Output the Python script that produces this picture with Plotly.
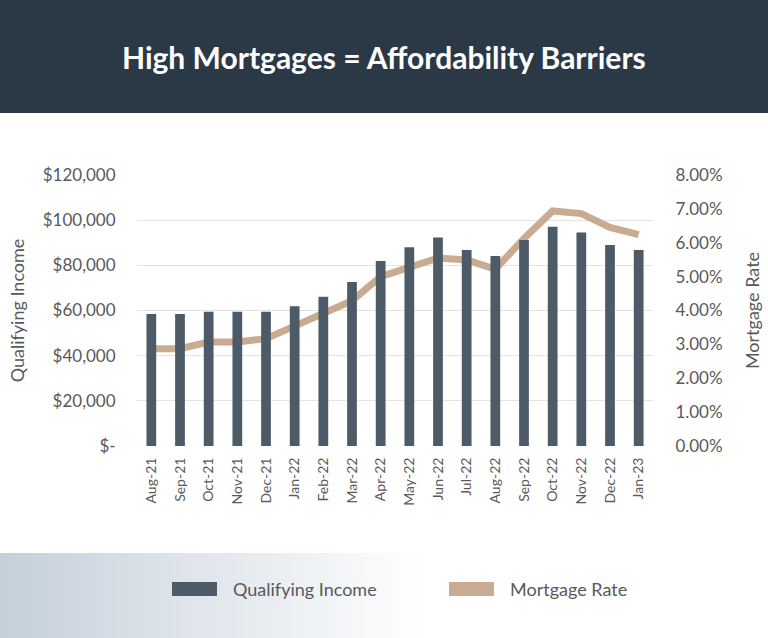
import plotly.graph_objects as go

months = ["Aug-21", "Sep-21", "Oct-21", "Nov-21", "Dec-21", "Jan-22", "Feb-22", "Mar-22",
          "Apr-22", "May-22", "Jun-22", "Jul-22", "Aug-22", "Sep-22", "Oct-22", "Nov-22",
          "Dec-22", "Jan-23"]
qualifying_income = [58500, 58500, 59500, 59500, 59500, 61900, 66100, 72600,
                     81900, 88000, 92300, 86800, 84100, 91200, 97100, 94500,
                     89000, 86800]
mortgage_rate = [2.87, 2.87, 3.07, 3.07, 3.17, 3.55, 3.92, 4.29,
                 5.00, 5.29, 5.55, 5.49, 5.22, 6.13, 6.94, 6.86,
                 6.45, 6.24]

income_ticks = [0, 20000, 40000, 60000, 80000, 100000, 120000]
income_labels = ["$-", "$20,000", "$40,000", "$60,000", "$80,000", "$100,000", "$120,000"]
rate_ticks = [0, 1, 2, 3, 4, 5, 6, 7, 8]
rate_labels = [f"{v:.2f}%" for v in rate_ticks]

BAR = "#4d5b69"
LINE = "#c8ab90"
TXT = "#595959"
FONT = "Lato"
W, H = 768, 638

fig = go.Figure()
fig.add_trace(go.Scatter(x=months, y=mortgage_rate, name="Mortgage Rate", mode="lines",
                         line=dict(color=LINE, width=7), yaxis="y", showlegend=False))
fig.add_trace(go.Bar(x=months, y=qualifying_income, name="Qualifying Income",
                     marker=dict(color=BAR, line=dict(width=0)), yaxis="y2", showlegend=False))

L, R = 137, W - 653
T, B = 175, H - 446
pw, ph = W - L - R, H - T - B
def px(x):
    return (x - L) / pw
def py(y):
    return (H - B - y) / ph

shapes = []
# header band
shapes.append(dict(type="rect", xref="paper", yref="paper", x0=px(0), x1=px(W),
                   y0=py(113), y1=py(0), fillcolor="#2b3947", line=dict(width=0), layer="below"))
# legend gradient band (vertical strips)
c0 = (197, 208, 219)
c1 = (255, 255, 255)
N = 60
gw = 430
for i in range(N):
    t = i / (N - 1)
    col = tuple(round(c0[k] + (c1[k] - c0[k]) * t) for k in range(3))
    shapes.append(dict(type="rect", xref="paper", yref="paper",
                       x0=px(i * gw / N), x1=px((i + 1) * gw / N + 1),
                       y0=py(H), y1=py(553), fillcolor="rgb(%d,%d,%d)" % col,
                       line=dict(width=0), layer="below"))
# legend swatches
shapes.append(dict(type="rect", xref="paper", yref="paper", x0=px(172), x1=px(217),
                   y0=py(596), y1=py(582), fillcolor=BAR, line=dict(width=0)))
shapes.append(dict(type="rect", xref="paper", yref="paper", x0=px(449), x1=px(494),
                   y0=py(596), y1=py(582), fillcolor=LINE, line=dict(width=0)))

annotations = [
    dict(text="<b>High Mortgages = Affordability Barriers</b>", xref="paper", yref="paper",
         x=px(384), y=py(57), xanchor="center", yanchor="middle", showarrow=False,
         font=dict(family=FONT, size=30, color="white")),
    dict(text="Qualifying Income", xref="paper", yref="paper", x=px(231), y=py(589),
         xanchor="left", yanchor="middle", showarrow=False,
         font=dict(family=FONT, size=18, color=TXT)),
    dict(text="Mortgage Rate", xref="paper", yref="paper", x=px(508), y=py(589),
         xanchor="left", yanchor="middle", showarrow=False,
         font=dict(family=FONT, size=18, color=TXT)),
]

fig.update_layout(
    width=W, height=H,
    margin=dict(l=L, r=R, t=T, b=B, autoexpand=False),
    paper_bgcolor="white", plot_bgcolor="white",
    font=dict(family=FONT, color=TXT),
    bargap=0.66,
    showlegend=False,
    shapes=shapes, annotations=annotations,
    xaxis=dict(type="category", tickangle=-90, tickfont=dict(size=14, color=TXT),
               showgrid=False, showline=False, ticks="outside", ticklen=5,
               tickcolor="rgba(0,0,0,0)"),
    yaxis=dict(side="right", range=[0, 8], tickvals=rate_ticks, ticktext=rate_labels,
               showgrid=False, zeroline=False, tickfont=dict(size=17, color=TXT),
               ticks="outside", ticklen=18, tickcolor="rgba(0,0,0,0)",
               title=dict(text="Mortgage Rate", font=dict(size=18, color=TXT), standoff=24)),
    yaxis2=dict(overlaying="y", side="left", range=[0, 120000], tickvals=income_ticks,
                ticktext=income_labels, showgrid=True, gridcolor="#e3e3e3", gridwidth=1,
                zeroline=False, tickfont=dict(size=17, color=TXT),
                ticks="outside", ticklen=17, tickcolor="rgba(0,0,0,0)",
                title=dict(text="Qualifying Income", font=dict(size=18, color=TXT), standoff=13)),
)

fig.write_html("out.html", config={"displayModeBar": False},
               post_script="document.body.style.margin='0';")
